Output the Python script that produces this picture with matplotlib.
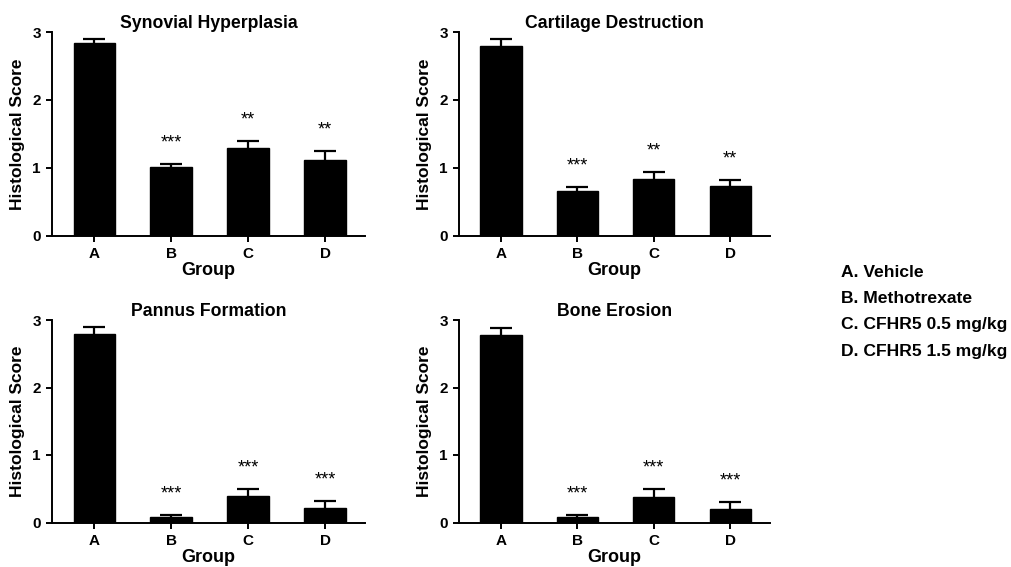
import matplotlib
matplotlib.use("Agg")
import matplotlib.pyplot as plt
import numpy as np

plt.rcParams['font.family'] = ['Liberation Sans', 'DejaVu Sans']

groups = ["A", "B", "C", "D"]
legend_lines = ["A. Vehicle", "B. Methotrexate", "C. CFHR5 0.5 mg/kg", "D. CFHR5 1.5 mg/kg"]

titles = ["Synovial Hyperplasia", "Cartilage Destruction", "Pannus Formation", "Bone Erosion"]

synovial_mean = [2.84, 1.01, 1.29, 1.11]
synovial_err = [0.06, 0.05, 0.10, 0.14]
synovial_sig = ["", "***", "**", "**"]

cartilage_mean = [2.80, 0.66, 0.84, 0.73]
cartilage_err = [0.10, 0.05, 0.10, 0.09]
cartilage_sig = ["", "***", "**", "**"]

pannus_mean = [2.79, 0.08, 0.39, 0.21]
pannus_err = [0.10, 0.03, 0.11, 0.11]
pannus_sig = ["", "***", "***", "***"]

bone_mean = [2.78, 0.08, 0.38, 0.20]
bone_err = [0.10, 0.03, 0.11, 0.11]
bone_sig = ["", "***", "***", "***"]

panels = [
    (titles[0], synovial_mean, synovial_err, synovial_sig),
    (titles[1], cartilage_mean, cartilage_err, cartilage_sig),
    (titles[2], pannus_mean, pannus_err, pannus_sig),
    (titles[3], bone_mean, bone_err, bone_sig),
]

W, H = 1012, 567
fig = plt.figure(figsize=(W / 100, H / 100), dpi=100)

# axes rectangles in pixels: (left, top, right, bottom)
rects = [
    (52, 32, 365, 235.5),
    (459, 32, 770, 235.5),
    (52, 320, 365, 522.5),
    (459, 320, 770, 522.5),
]

for (title, mean, err, sig), (l, t, r, b) in zip(panels, rects):
    ax = fig.add_axes([l / W, 1 - b / H, (r - l) / W, (b - t) / H])
    x = np.arange(len(groups))
    ax.bar(x, mean, width=0.54, color='black', edgecolor='black', zorder=2)
    ax.errorbar(x, mean, yerr=err, fmt='none',
                ecolor='black', elinewidth=1.6, capsize=8, capthick=1.6, zorder=1)
    for xi, m, e, s in zip(x, mean, err, sig):
        if s:
            ax.annotate(s, xy=(xi, m + e), xytext=(0, 21), textcoords='offset pixels',
                        ha='center', va='center', fontsize=13, color='black')
    ax.set_xlim(-0.55, 3.52)
    ax.set_ylim(0, 3)
    ax.set_yticks([0, 1, 2, 3])
    ax.set_xticks(x)
    ax.set_xticklabels(groups)
    for sp in ['top', 'right']:
        ax.spines[sp].set_visible(False)
    for sp in ['left', 'bottom']:
        ax.spines[sp].set_linewidth(1.4)
    ax.tick_params(axis='both', width=1.4, length=4, labelsize=11, pad=4)
    for lab in ax.get_xticklabels() + ax.get_yticklabels():
        lab.set_fontweight('bold')
    ax.set_title(title, fontsize=12.7, fontweight='bold', pad=3)
    ax.set_xlabel("Group", fontsize=13, fontweight='bold', labelpad=1)
    ax.set_ylabel("Histological Score", fontsize=12.5, fontweight='bold', labelpad=5)

for i, line in enumerate(legend_lines):
    fig.text(841 / W, 1 - (276.7 + i * 26.3) / H, line, fontsize=12.6,
             fontweight='bold', ha='left', va='baseline')

fig.savefig("out.png", dpi=100)
